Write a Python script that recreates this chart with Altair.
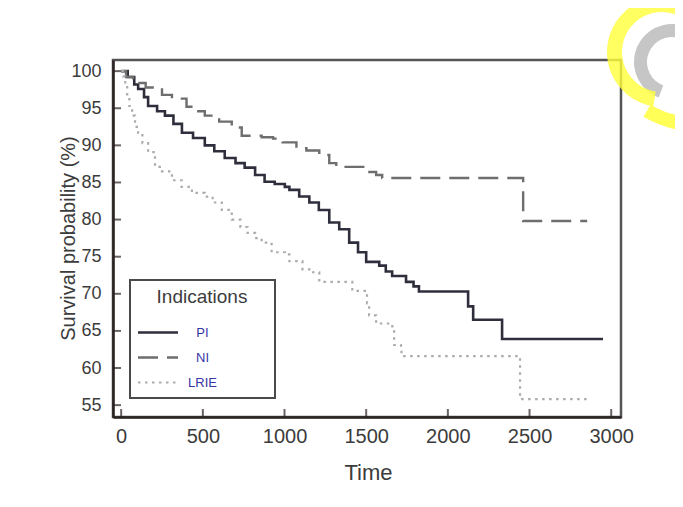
import altair as alt
import pandas as pd

groups = ["PI", "NI", "LRIE"]

pi_time = [0, 40, 80, 104, 140, 165, 220, 268, 320, 372, 440, 512, 570, 634, 700, 756, 820, 878, 940, 1002,
           1030, 1090, 1152, 1210, 1274, 1335, 1396, 1450, 1500, 1580, 1620, 1659, 1744, 1790, 1823, 2124, 2155,
           2332, 2950]
pi_surv = [100, 99.2, 98.2, 97.6, 96.5, 95.3, 94.6, 94.0, 92.9, 91.7, 91.0, 90.0, 89.2, 88.3, 87.6, 87.0, 86.0,
           85.1, 84.8, 84.4, 84.0, 83.1, 82.3, 81.3, 79.6, 78.7, 76.9, 75.6, 74.3, 73.8, 73.0, 72.4, 71.6, 71.0,
           70.3, 68.3, 66.5, 63.9, 63.9]

ni_time = [0, 30, 73, 150, 250, 311, 400, 460, 512, 600, 677, 738, 860, 930, 988, 1073, 1134, 1213, 1274, 1317,
           1500, 1561, 1598, 2461, 2853]
ni_surv = [100, 99.2, 98.4, 97.8, 96.8, 96.3, 95.2, 94.6, 94.0, 93.2, 92.4, 91.3, 91.1, 90.9, 90.4, 89.6, 89.3,
           88.7, 87.6, 87.1, 86.4, 86.0, 85.6, 79.8, 79.8]

lrie_time = [0, 12, 25, 37, 50, 67, 85, 104, 130, 165, 207, 250, 311, 370, 433, 512, 560, 616, 677, 730, 774, 820,
             860, 921, 1002, 1030, 1110, 1152, 1213, 1415, 1500, 1505, 1518, 1561, 1660, 1671, 1713, 1716, 2442,
             2853]
lrie_surv = [100, 99.3, 98.0, 96.7, 95.3, 94.0, 92.5, 91.7, 90.3, 89.1, 87.1, 86.5, 85.3, 84.4, 83.6, 83.1, 82.3,
             81.3, 80.0, 79.0, 78.2, 77.5, 76.9, 75.6, 75.3, 74.4, 73.3, 72.9, 71.6, 70.4, 70.0, 68.7, 67.1, 66.0,
             65.1, 63.1, 62.7, 61.6, 55.8, 55.8]

x_ticks = [0, 500, 1000, 1500, 2000, 2500, 3000]
y_ticks = [55, 60, 65, 70, 75, 80, 85, 90, 95, 100]

line_colors = ["#2e2e3c", "#6e6e6e", "#ababab"]
line_dashes = [[1, 0], [20, 9], [2.5, 4.5]]
line_widths = [2.6, 2.2, 2.0]

rows = []
for g, ts, ss in [("PI", pi_time, pi_surv), ("NI", ni_time, ni_surv), ("LRIE", lrie_time, lrie_surv)]:
    for t, s in zip(ts, ss):
        rows.append({"Time": t, "Survival": s, "Indication": g})
df = pd.DataFrame(rows)

W, H = 508, 357
FONT = "Liberation Sans"
TXT = "#3c3c3c"
AXIS_C = "#2b2222"

x_scale = alt.Scale(domain=[-50, 3060], nice=False, zero=False)
y_scale = alt.Scale(domain=[53.4, 101.5], nice=False, zero=False)

x_axis = alt.Axis(values=x_ticks, format="d", ticks=False, grid=False, domainColor=AXIS_C, domainWidth=2.5,
                  labelFont=FONT, labelFontSize=20, labelColor=TXT, labelPadding=9, labelFlush=False,
                  labelOverlap=False, title="Time", titleFont=FONT, titleFontSize=22, titleFontWeight="normal",
                  titleColor=TXT, titleX=255, titleY=55, titleBaseline="middle", titleAlign="center")
y_axis = alt.Axis(values=y_ticks, format="d", ticks=False, grid=False, domainColor=AXIS_C, domainWidth=2.5,
                  labelFont=FONT, labelFontSize=18, labelColor=TXT, labelPadding=12, labelFlush=False,
                  labelOverlap=False, title="Survival probability (%)", titleFont=FONT, titleFontSize=20,
                  titleFontWeight="normal", titleColor=TXT, titleX=-45, titleY=178, titleBaseline="middle",
                  titleAngle=270, titleAlign="center")

legend = alt.Legend(title="Indications", orient="none", legendX=17, legendY=220,
                    symbolType="M-2,0H2M10.3,0", symbolSize=400, symbolStrokeWidth=2.5, symbolOffset=8.5,
                    labelAlign="center", labelOffset=33, rowPadding=6, titleAnchor="middle", titlePadding=14,
                    padding=8)

lines = alt.Chart(df).mark_line(interpolate="step-after").encode(
    x=alt.X("Time:Q", scale=x_scale, axis=x_axis),
    y=alt.Y("Survival:Q", scale=y_scale, axis=y_axis),
    color=alt.Color("Indication:N", scale=alt.Scale(domain=groups, range=line_colors), legend=legend),
    strokeDash=alt.StrokeDash("Indication:N", scale=alt.Scale(domain=groups, range=line_dashes), legend=legend),
    strokeWidth=alt.StrokeWidth("Indication:N", scale=alt.Scale(domain=groups, range=line_widths), legend=None),
)

x_tick_layer = alt.Chart(pd.DataFrame({"Time": x_ticks})).mark_tick(
    orient="vertical", size=16, thickness=2, color=AXIS_C, clip=True
).encode(x=alt.X("Time:Q", scale=x_scale, axis=x_axis), y=alt.value(H))

y_tick_layer = alt.Chart(pd.DataFrame({"Survival": y_ticks})).mark_tick(
    orient="horizontal", size=16, thickness=2, color=AXIS_C, clip=True
).encode(y=alt.Y("Survival:Q", scale=y_scale, axis=y_axis), x=alt.value(0))

logo = pd.DataFrame({"k": [0]})
grey_arc = alt.Chart(logo).mark_arc(radius=38, radius2=25, theta=3.5, theta2=7.85, color="#c6c6c6").encode(
    x=alt.value(559), y=alt.value(2))
yellow_arc = alt.Chart(logo).mark_arc(radius=55, radius2=40, theta=3.3, theta2=7.3, color="#ffff3a",
                                      opacity=0.8).encode(x=alt.value(549), y=alt.value(-8))
yellow_tail = alt.Chart(logo).mark_arc(radius=112, radius2=98, theta=3.23, theta2=3.67, color="#ffff3a",
                                       opacity=0.85).encode(x=alt.value(587), y=alt.value(-40))

chart = alt.layer(lines, x_tick_layer, y_tick_layer, grey_arc, yellow_arc, yellow_tail).properties(
    width=W, height=H,
    autosize=alt.AutoSizeParams(type="none"),
    padding={"left": 105, "top": 52, "right": 54, "bottom": 82},
    background="white",
).configure_view(
    stroke="#555555", strokeWidth=2.5
).configure_legend(
    strokeColor="#4a4a4a", strokeWidth=2, fillColor="white", cornerRadius=0,
    titleFont=FONT, titleFontSize=19, titleFontWeight="normal", titleColor=TXT,
    labelFont=FONT, labelFontSize=13, labelColor="#3535a5",
)

chart.save("out.html", embed_options={"renderer": "svg", "actions": False})
